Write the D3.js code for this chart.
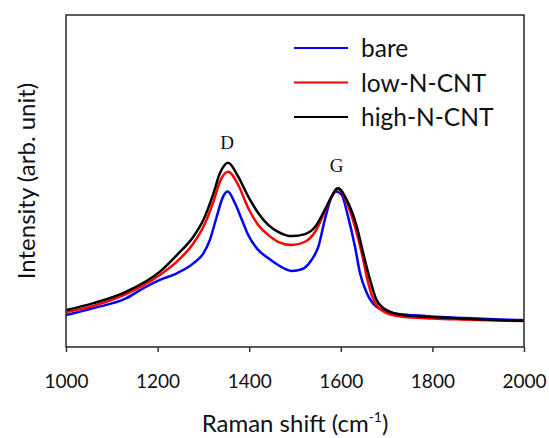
<!DOCTYPE html>
<html>
<head>
<meta charset="utf-8">
<script src="https://cdn.jsdelivr.net/npm/d3@7"></script>
<style>
  html, body { margin: 0; padding: 0; background: #fff; }
  svg { display: block; }
</style>
</head>
<body>
<svg id="chart" width="549" height="438"></svg>
<script>
// Raman spectra (arbitrary intensity units) for three electrodes
const seriesNames = ["bare", "low-N-CNT", "high-N-CNT"];
const seriesColors = ["#0000ff", "#ff0000", "#000000"];

const bareShift = [1000, 1060, 1132, 1169, 1205, 1242, 1278, 1300, 1314, 1329, 1343, 1353, 1369, 1384, 1398, 1420, 1442, 1463, 1493, 1515, 1536, 1551, 1565, 1580, 1590, 1602, 1616, 1631, 1642, 1657, 1678, 1715, 1788, 1870, 1948, 2000];
const bareIntensity = [9.6, 11.7, 14.7, 17.7, 20.2, 22.2, 25.2, 28.2, 32.2, 39.2, 45.3, 46.8, 43.3, 38.3, 33.7, 29.2, 26.7, 24.7, 22.9, 23.4, 26.2, 30.2, 38.3, 45.3, 46.8, 45.8, 39.2, 30.2, 22.2, 16.2, 12.1, 10.2, 9.3, 8.7, 8.3, 8.1];

const lowShift = [1000, 1060, 1132, 1205, 1242, 1278, 1300, 1322, 1336, 1354, 1376, 1398, 1420, 1442, 1463, 1493, 1522, 1544, 1565, 1580, 1592, 1609, 1631, 1646, 1660, 1675, 1700, 1736, 1800, 1860, 1940, 2000];
const lowIntensity = [10.5, 12.4, 16.0, 21.7, 25.7, 31.2, 36.2, 43.8, 49.8, 52.8, 48.8, 41.8, 36.7, 33.7, 31.7, 30.7, 31.7, 34.7, 40.8, 45.3, 47.8, 44.8, 36.2, 28.2, 19.2, 13.2, 10.2, 9.1, 8.6, 8.3, 8.0, 7.8];

const highShift = [1000, 1060, 1132, 1205, 1242, 1278, 1300, 1322, 1336, 1354, 1376, 1398, 1420, 1442, 1463, 1493, 1522, 1544, 1565, 1580, 1594, 1613, 1635, 1649, 1664, 1678, 1700, 1736, 1788, 1860, 1940, 2000];
const highIntensity = [11.1, 13.2, 16.7, 22.7, 27.7, 33.2, 38.3, 46.3, 52.3, 55.5, 51.3, 45.3, 40.3, 36.7, 34.7, 33.4, 34.0, 36.2, 41.3, 45.3, 47.8, 44.3, 36.2, 28.2, 20.2, 14.2, 11.1, 9.6, 9.1, 8.6, 8.1, 7.9];

const xTicks = [1000, 1200, 1400, 1600, 1800, 2000];

// Band labels placed above the peaks
const bandNames = ["D", "G"];
const bandShift = [1352, 1591];
const bandIntensity = [59.5, 52.8];

const svg = d3.select("#chart");
const frame = { left: 66, right: 524, top: 15, bottom: 347 };

const x = d3.scaleLinear().domain([1000, 2000]).range([frame.left, frame.right]);
const y = d3.scaleLinear().domain([0, 100]).range([frame.bottom, frame.top]);

const series = [
  { name: seriesNames[0], color: seriesColors[0], shift: bareShift, value: bareIntensity },
  { name: seriesNames[1], color: seriesColors[1], shift: lowShift, value: lowIntensity },
  { name: seriesNames[2], color: seriesColors[2], shift: highShift, value: highIntensity }
];

const line = d3.line()
  .x(d => x(d[0]))
  .y(d => y(d[1]))
  .curve(d3.curveMonotoneX);

svg.append("defs").append("clipPath").attr("id", "plot-clip")
  .append("rect")
  .attr("x", frame.left).attr("y", frame.top)
  .attr("width", frame.right - frame.left)
  .attr("height", frame.bottom - frame.top);

const traces = svg.append("g").attr("clip-path", "url(#plot-clip)");
series.forEach(s => {
  traces.append("path")
    .datum(d3.zip(s.shift, s.value))
    .attr("fill", "none")
    .attr("stroke", s.color)
    .attr("stroke-width", 2.5)
    .attr("stroke-linejoin", "round")
    .attr("d", line);
});

// Bottom axis with outward ticks
const xAxis = d3.axisBottom(x)
  .tickValues(xTicks)
  .tickSize(5)
  .tickSizeOuter(0)
  .tickPadding(0)
  .tickFormat(d3.format("d"));

const axisG = svg.append("g")
  .attr("transform", `translate(0,${frame.bottom})`)
  .call(xAxis);
axisG.select(".domain").remove();
axisG.selectAll(".tick line").attr("stroke", "#333").attr("stroke-width", 1.5);
axisG.selectAll(".tick text")
  .attr("y", 41)
  .attr("dy", null)
  .attr("fill", "#111")
  .style("font-family", "Lato, 'Open Sans', sans-serif")
  .style("font-size", "19px");

// Plot frame
svg.append("rect")
  .attr("x", frame.left).attr("y", frame.top)
  .attr("width", frame.right - frame.left)
  .attr("height", frame.bottom - frame.top)
  .attr("fill", "none")
  .attr("stroke", "#333")
  .attr("stroke-width", 1.6);

// Axis titles
const titleFont = "Lato, 'Open Sans', sans-serif";
const xTitle = svg.append("text")
  .attr("x", (frame.left + frame.right) / 2)
  .attr("y", 432)
  .attr("text-anchor", "middle")
  .attr("fill", "#111")
  .style("font-family", titleFont)
  .style("font-size", "24px");
xTitle.append("tspan").text("Raman shift (cm");
xTitle.append("tspan").attr("dy", -10).style("font-size", "14px").text("-1");
xTitle.append("tspan").attr("dy", 10).text(")");

svg.append("text")
  .attr("transform", `translate(35,${(frame.top + frame.bottom) / 2}) rotate(-90)`)
  .attr("text-anchor", "middle")
  .attr("fill", "#111")
  .style("font-family", titleFont)
  .style("font-size", "24px")
  .text("Intensity (arb. unit)");

// Peak labels
svg.selectAll(".band")
  .data(d3.zip(bandNames, bandShift, bandIntensity))
  .join("text")
  .attr("class", "band")
  .attr("x", d => x(d[1]))
  .attr("y", d => y(d[2]))
  .attr("text-anchor", "middle")
  .attr("fill", "#111")
  .style("font-family", "'Liberation Serif', 'Times New Roman', serif")
  .style("font-size", "19px")
  .text(d => d[0]);

// Legend
const legend = svg.append("g").attr("transform", "translate(294,48)");
const rows = legend.selectAll("g")
  .data(series)
  .join("g")
  .attr("transform", (d, i) => `translate(0,${i * 34.5})`);
rows.append("line")
  .attr("x1", 0).attr("x2", 54)
  .attr("stroke", d => d.color)
  .attr("stroke-width", 2);
rows.append("text")
  .attr("x", 67)
  .attr("y", 9)
  .attr("fill", "#111")
  .style("font-family", titleFont)
  .style("font-size", "24.5px")
  .text(d => d.name);
</script>
</body>
</html>
